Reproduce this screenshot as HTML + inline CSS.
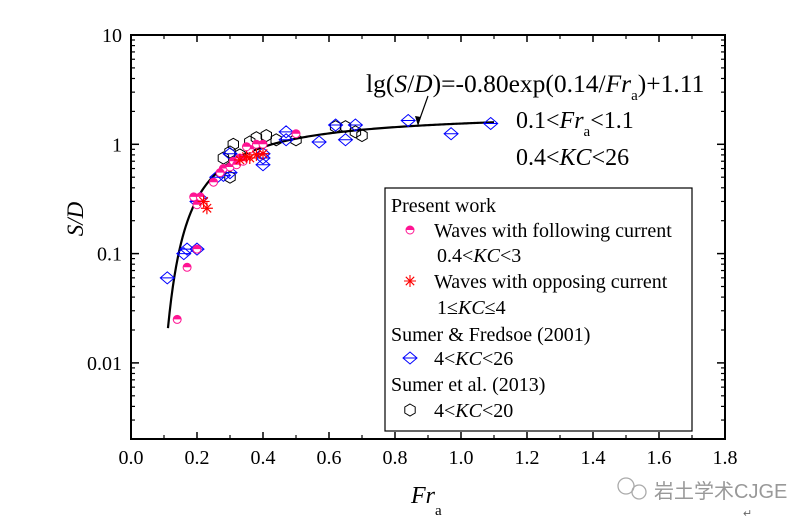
<!DOCTYPE html>
<html><head><meta charset="utf-8"><style>
body{margin:0;background:#fff}
svg{display:block;font-family:"Liberation Serif","Noto Serif CJK SC",serif}
</style></head><body>
<svg id="chart" width="810" height="524" viewBox="0 0 810 524">
<g id="plot"></g>
</svg>
<script>
const xTicks=[0,0.2,0.4,0.6,0.8,1.0,1.2,1.4,1.6,1.8];
const xTickLabels=["0.0","0.2","0.4","0.6","0.8","1.0","1.2","1.4","1.6","1.8"];
const yTicks=[0.01,0.1,1,10];
const yTickLabels=["0.01","0.1","1","10"];
const followFr=[0.14,0.17,0.20,0.19,0.21,0.20,0.25,0.28,0.30,0.31,0.33,0.36,0.38,0.40,0.50,0.35,0.32,0.27,0.34];
const followSD=[0.025,0.075,0.11,0.33,0.33,0.28,0.45,0.6,0.62,0.7,0.75,0.9,1.0,1.0,1.25,0.95,0.65,0.55,0.7];
const opposeFr=[0.22,0.23,0.33,0.35,0.38,0.40,0.36];
const opposeSD=[0.3,0.26,0.72,0.77,0.8,0.82,0.75];
const sumerFFr=[0.11,0.16,0.17,0.20,0.20,0.21,0.26,0.28,0.30,0.30,0.40,0.40,0.40,0.47,0.47,0.57,0.62,0.65,0.68,0.84,0.97,1.09];
const sumerFSD=[0.06,0.1,0.11,0.11,0.3,0.32,0.5,0.52,0.55,0.82,0.75,0.82,0.65,1.3,1.1,1.05,1.5,1.1,1.5,1.65,1.25,1.55];
const sumerEFr=[0.28,0.30,0.31,0.33,0.38,0.41,0.44,0.50,0.62,0.65,0.68,0.70,0.30,0.36];
const sumerESD=[0.75,0.85,1.0,0.8,1.15,1.2,1.1,1.1,1.45,1.45,1.3,1.2,0.5,1.05];
const fitA=-0.80, fitB=0.14, fitC=1.11, fitFrMin=0.112, fitFrMax=1.1;

const L=131,R=725,T=35,B=439;
const yTopLog=1, yDec=109.3;
const yMinLog=yTopLog-(B-T)/yDec;
const X=v=>L+v/1.8*(R-L);
const Y=v=>T+(yTopLog-Math.log10(v))*yDec;
const NS="http://www.w3.org/2000/svg";
const svg=document.getElementById('chart');
function mk(tag,attrs,parent){const e=document.createElementNS(NS,tag);for(const k in attrs)e.setAttribute(k,attrs[k]);(parent||svg).appendChild(e);return e;}

const frame=mk('rect',{x:L,y:T,width:R-L,height:B-T,fill:'none',stroke:'#000','stroke-width':2});



xTicks.forEach((v,i)=>{
  const x=X(v);
  mk('line',{x1:x,y1:B,x2:x,y2:B-7,stroke:'#000','stroke-width':1.5});
  mk('line',{x1:x,y1:T,x2:x,y2:T+7,stroke:'#000','stroke-width':1.5});
  if(i<xTicks.length-1){const xm=X(v+0.1);
    mk('line',{x1:xm,y1:B,x2:xm,y2:B-4,stroke:'#000','stroke-width':1.2});
    mk('line',{x1:xm,y1:T,x2:xm,y2:T+4,stroke:'#000','stroke-width':1.2});}
  const t=mk('text',{x:x,y:464,'text-anchor':'middle','font-size':20});
  t.textContent=xTickLabels[i];
  
  
});
yTicks.forEach((v,i)=>{
  const y=Y(v);
  mk('line',{x1:L,y1:y,x2:L+8,y2:y,stroke:'#000','stroke-width':1.5});
  mk('line',{x1:R,y1:y,x2:R-8,y2:y,stroke:'#000','stroke-width':1.5});
  const t=mk('text',{x:L-9,y:y+7,'text-anchor':'end','font-size':20});
  t.textContent=yTickLabels[i];
  
  
});
for(let d=-3;d<1;d++){for(let m=2;m<10;m++){const v=m*Math.pow(10,d);if(Math.log10(v)<yMinLog)continue;const y=Y(v);
  mk('line',{x1:L,y1:y,x2:L+4,y2:y,stroke:'#000','stroke-width':1.2});
  mk('line',{x1:R,y1:y,x2:R-4,y2:y,stroke:'#000','stroke-width':1.2});}}

const yt=mk('text',{x:83,y:219,'text-anchor':'middle','font-size':23,'font-style':'italic',transform:'rotate(-90 83 219)'});
yt.textContent='S/D';


const xt=mk('text',{x:411,y:503,'font-size':24});
xt.innerHTML='<tspan font-style="italic">Fr</tspan><tspan font-size="15" dy="12">a</tspan>';



let d='';
for(let i=0;i<=200;i++){const f=fitFrMin+(fitFrMax-fitFrMin)*i/200;const sd=Math.pow(10,fitA*Math.exp(fitB/f)+fitC);d+=(i?'L':'M')+X(f).toFixed(2)+','+Y(sd).toFixed(2);}
const curve=mk('path',{d:d,fill:'none',stroke:'#000','stroke-width':2.2});



function diamond(x,y,g){mk('path',{d:`M${x},${y-6}L${x+7},${y}L${x},${y+6}L${x-7},${y}Z M${x-7},${y}L${x+7},${y}`,fill:'none',stroke:'#0000ff','stroke-width':1},g);}
function hexagon(x,y,g){let p='';for(let k=0;k<6;k++){const a=Math.PI/6+k*Math.PI/3;p+=(k?'L':'M')+(x+6*Math.cos(a)).toFixed(1)+','+(y+6*Math.sin(a)).toFixed(1);}mk('path',{d:p+'Z',fill:'none',stroke:'#000','stroke-width':1},g);}
function halfCircle(x,y,g){mk('circle',{cx:x,cy:y,r:4,fill:'#fff',stroke:'#ff1493','stroke-width':1},g);mk('path',{d:`M${x-4},${y}A4,4 0 0 1 ${x+4},${y}Z`,fill:'#ff1493'},g);}
function star(x,y,g){const r=6;let p='';for(let k=0;k<4;k++){const a=k*Math.PI/4;p+=`M${x-r*Math.cos(a)},${y-r*Math.sin(a)}L${x+r*Math.cos(a)},${y+r*Math.sin(a)}`;}mk('path',{d:p,stroke:'#ff0000','stroke-width':1.2,fill:'none'},g);}

function series(name,fr,sd,fn){const g=mk('g',{});
  fr.forEach((f,i)=>fn(X(f),Y(sd[i]),g));}
series('series-sumer-2013',sumerEFr,sumerESD,hexagon);
series('series-sumer-fredsoe-2001',sumerFFr,sumerFSD,diamond);
series('series-following-current',followFr,followSD,halfCircle);
series('series-opposing-current',opposeFr,opposeSD,star);
</script>
<svg style="position:absolute;left:0;top:0" width="810" height="524">
<g font-family="Liberation Serif, serif">
<text x="366" y="92" font-size="25.5">lg(<tspan font-style="italic">S</tspan>/<tspan font-style="italic">D</tspan>)=-0.80exp(0.14/<tspan font-style="italic">Fr</tspan><tspan font-size="15" dy="8">a</tspan><tspan dy="-8">)+1.11</tspan></text>
<line x1="428" y1="96" x2="418" y2="124" stroke="#000" stroke-width="1.2"/>
<path d="M418,126 L415,116 L421,117 Z" fill="#000"/>
<text x="516" y="128" font-size="24">0.1&lt;<tspan font-style="italic">Fr</tspan><tspan font-size="15" dy="8">a</tspan><tspan dy="-8">&lt;1.1</tspan></text>
<text x="516" y="165" font-size="24">0.4&lt;<tspan font-style="italic">KC</tspan>&lt;26</text>
<g>
<rect x="385" y="188" width="307" height="243" fill="#fff" stroke="#000" stroke-width="1.2"/>
<g font-size="20">
<text x="391" y="212">Present work</text>
<circle cx="410" cy="230" r="4" fill="#fff" stroke="#ff1493"/><path d="M406,230A4,4 0 0 1 414,230Z" fill="#ff1493"/>
<text x="434" y="237">Waves with following current</text>
<text x="437" y="262">0.4&lt;<tspan font-style="italic">KC</tspan>&lt;3</text>
<path d="M404,281L416,281M410,275L410,287M405.8,276.8L414.2,285.2M414.2,276.8L405.8,285.2" stroke="#ff0000" stroke-width="1.1"/>
<text x="434" y="288">Waves with opposing current</text>
<text x="437" y="314">1≤<tspan font-style="italic">KC</tspan>≤4</text>
<text x="391" y="341">Sumer &amp; Fredsoe (2001)</text>
<path d="M410,352L417,358L410,364L403,358Z M403,358L417,358" fill="none" stroke="#0000ff"/>
<text x="434" y="365">4&lt;<tspan font-style="italic">KC</tspan>&lt;26</text>
<text x="391" y="391">Sumer et al. (2013)</text>
<path d="M410,404L415.2,407L415.2,413L410,416L404.8,413L404.8,407Z" fill="none" stroke="#000"/>
<text x="434" y="417">4&lt;<tspan font-style="italic">KC</tspan>&lt;20</text>
</g></g>
<g fill="#999">
<circle cx="626" cy="486" r="8" fill="none" stroke="#aaa" stroke-width="1.3"/><circle cx="639" cy="492" r="7" fill="none" stroke="#aaa" stroke-width="1.3"/>
<text x="654" y="498" font-size="20" font-family="Liberation Sans, Noto Sans CJK SC, sans-serif">岩土学术CJGE</text>
</g>
<text x="743" y="517" font-size="11" fill="#666">↵</text>
</g>
</svg>
</body></html>
